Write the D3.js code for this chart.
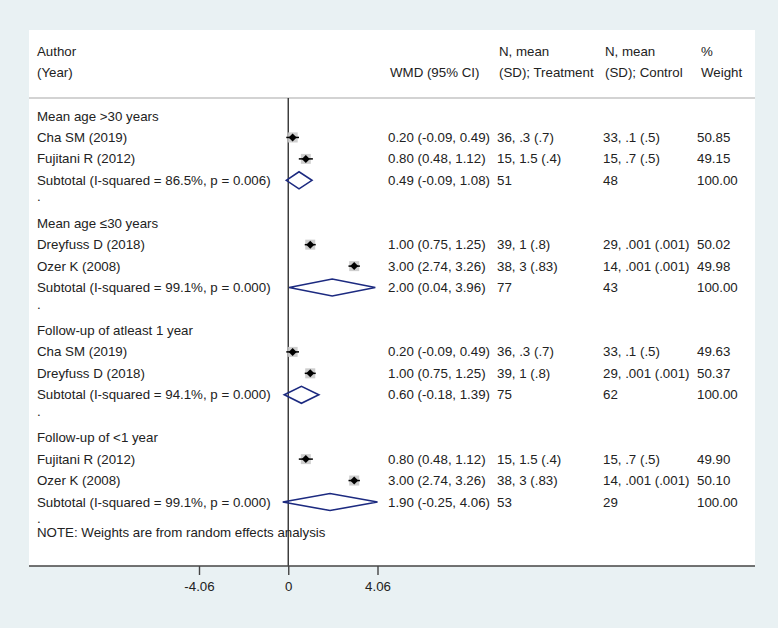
<!DOCTYPE html>
<html><head><meta charset="utf-8">
<script src="https://cdn.jsdelivr.net/npm/d3@7"></script>
<style>body{margin:0;background:#e9f1f3}svg{display:block}</style>
</head><body>
<script>
const rowLabels = ["Mean age >30 years","Cha SM (2019)","Fujitani R (2012)","Subtotal  (I-squared = 86.5%, p = 0.006)",".",
"Mean age \u226430 years","Dreyfuss D (2018)","Ozer K (2008)","Subtotal  (I-squared = 99.1%, p = 0.000)",".",
"Follow-up of atleast 1 year","Cha SM (2019)","Dreyfuss D (2018)","Subtotal  (I-squared = 94.1%, p = 0.000)",".",
"Follow-up of <1 year","Fujitani R (2012)","Ozer K (2008)","Subtotal  (I-squared = 99.1%, p = 0.000)","."];
const rowTypes = ["group","study","study","subtotal","spacer","group","study","study","subtotal","spacer",
"group","study","study","subtotal","spacer","group","study","study","subtotal","spacer"];
const estimates = [null,0.20,0.80,0.49,null,null,1.00,3.00,2.00,null,null,0.20,1.00,0.60,null,null,0.80,3.00,1.90,null];
const lower = [null,-0.09,0.48,-0.09,null,null,0.75,2.74,0.04,null,null,-0.09,0.75,-0.18,null,null,0.48,2.74,-0.25,null];
const upper = [null,0.49,1.12,1.08,null,null,1.25,3.26,3.96,null,null,0.49,1.25,1.39,null,null,1.12,3.26,4.06,null];
const treatment = ["","36, .3 (.7)","15, 1.5 (.4)","51","","","39, 1 (.8)","38, 3 (.83)","77","","","36, .3 (.7)","39, 1 (.8)","75","","","15, 1.5 (.4)","38, 3 (.83)","53",""];
const control = ["","33, .1 (.5)","15, .7 (.5)","48","","","29, .001 (.001)","14, .001 (.001)","43","","","33, .1 (.5)","29, .001 (.001)","62","","","15, .7 (.5)","14, .001 (.001)","29",""];
const weights = [null,50.85,49.15,100.00,null,null,50.02,49.98,100.00,null,null,49.63,50.37,100.00,null,null,49.90,50.10,100.00,null];
const tickValues = [-4.06, 0, 4.06];
const note = "NOTE: Weights are from random effects analysis";

const W = 778, H = 628;
const FS = "13.3px";
const FF = "'Liberation Sans', Arial, sans-serif";
const svg = d3.select("body").append("svg").attr("width", W).attr("height", H)
  .style("font-family", FF).style("font-size", FS);
svg.append("rect").attr("width", W).attr("height", H).attr("fill", "#e9f1f3");
const panel = {l: 29, r: 755, t: 30, b: 566};
svg.append("rect").attr("x", panel.l).attr("y", panel.t).attr("width", panel.r - panel.l).attr("height", panel.b - panel.t).attr("fill", "#ffffff");

const x = d3.scaleLinear().domain([-4.06, 4.06]).range([199, 377.5]);
const y = d3.scaleLinear().domain([0, 18]).range([116, 502]);
const txt = "#222";
const colX = {author: 37, effect: 388, treat: 497, ctrl: 603, wt: 697};

// header
const hdr = svg.append("g").attr("fill", txt);
[["Author", colX.author, 56], ["(Year)", colX.author, 77], ["WMD (95% CI)", colX.effect + 2, 77],
 ["N, mean", colX.treat + 2, 56], ["(SD); Treatment", colX.treat + 2, 77],
 ["N, mean", colX.ctrl + 2, 56], ["(SD); Control", colX.ctrl + 2, 77],
 ["%", colX.wt + 4, 56], ["Weight", colX.wt + 4, 77]].forEach(d => {
  hdr.append("text").attr("x", d[1]).attr("y", d[2]).text(d[0]);
});
svg.append("line").attr("x1", panel.l).attr("x2", panel.r).attr("y1", 98).attr("y2", 98)
  .attr("stroke", "#c4c4c4").attr("stroke-width", 1.5);

// zero line
svg.append("line").attr("x1", x(0)).attr("x2", x(0)).attr("y1", 98).attr("y2", panel.b)
  .attr("stroke", "#333").attr("stroke-width", 1.4);

const f2 = v => d3.format(".2f")(v).replace("\u2212", "-");
const rows = rowLabels.map((lab, i) => ({lab, i, type: rowTypes[i], est: estimates[i], lo: lower[i], hi: upper[i],
  tr: treatment[i], ct: control[i], w: weights[i]}));

const g = svg.append("g");
rows.forEach(r => {
  const cy = y(r.i);
  const ty = cy + 4.5;
  const labY = r.type === "spacer" ? cy - 0.5 : ty;
  g.append("text").attr("x", colX.author).attr("y", labY).attr("fill", txt).text(r.lab);
  if (r.est != null) {
    g.append("text").attr("x", colX.effect).attr("y", ty).attr("fill", txt)
      .text(`${f2(r.est)} (${f2(r.lo)}, ${f2(r.hi)})`);
    g.append("text").attr("x", colX.treat).attr("y", ty).attr("fill", txt).text(r.tr);
    g.append("text").attr("x", colX.ctrl).attr("y", ty).attr("fill", txt).text(r.ct);
    g.append("text").attr("x", colX.wt).attr("y", ty).attr("fill", txt).text(f2(r.w));
  }
  if (r.type === "study") {
    const s = 10 * Math.sqrt(r.w / 50);
    g.append("rect").attr("x", x(r.est) - s / 2).attr("y", cy - s / 2).attr("width", s).attr("height", s)
      .attr("fill", "#c9c9c9").attr("opacity", 0.9);
    g.append("line").attr("x1", x(r.lo)).attr("x2", x(r.hi)).attr("y1", cy).attr("y2", cy)
      .attr("stroke", "#000").attr("stroke-width", 1.5);
    const m = 4;
    g.append("path").attr("d", `M${x(r.est) - m},${cy}L${x(r.est)},${cy - m}L${x(r.est) + m},${cy}L${x(r.est)},${cy + m}Z`)
      .attr("fill", "#000");
  } else if (r.type === "subtotal") {
    const h = 8.5;
    g.append("path").attr("d", `M${x(r.lo)},${cy}L${x(r.est)},${cy - h}L${x(r.hi)},${cy}L${x(r.est)},${cy + h}Z`)
      .attr("fill", "none").attr("stroke", "#1c2a80").attr("stroke-width", 1.6);
  }
});

g.append("text").attr("x", colX.author).attr("y", 536.5).attr("fill", txt).text(note);

// axis
svg.append("line").attr("x1", panel.l).attr("x2", panel.r).attr("y1", panel.b).attr("y2", panel.b)
  .attr("stroke", "#444").attr("stroke-width", 1.5);
const axis = d3.axisBottom(x).tickValues(tickValues).tickSize(9).tickPadding(7)
  .tickFormat(d => d === 0 ? "0" : f2(d));
const ax = svg.append("g").attr("transform", `translate(0,${panel.b})`).call(axis);
ax.select(".domain").remove();
ax.selectAll("line").attr("stroke", "#444").attr("stroke-width", 1.4);
ax.selectAll("text").attr("fill", txt).style("font-size", FS).style("font-family", FF);
</script>
</body></html>
